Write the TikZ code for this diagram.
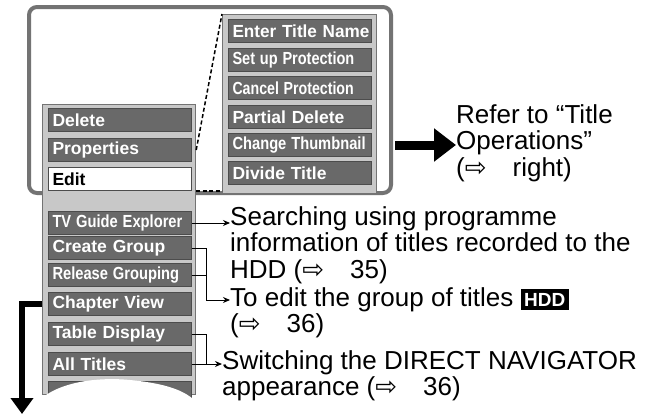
\documentclass[tikz,border=0pt]{standalone}
\usepackage{fontspec}
\setmainfont{Liberation Sans}
\newfontfamily\arrowfont{DejaVu Sans}
\usetikzlibrary{arrows.meta,positioning}
\definecolor{itemgray}{RGB}{105,105,105}
\definecolor{panelgray}{RGB}{200,200,200}
\tikzstyle{item}=[rectangle, fill=itemgray, draw=black!70, line width=1pt, text=white, font=\fontsize{17.5}{18}\selectfont\bfseries, text width=135pt, inner xsep=4pt, inner ysep=0pt, minimum height=23pt, align=left, anchor=north west]
\tikzstyle{panel}=[rectangle, fill=panelgray, draw=black!55, line width=1.2pt, anchor=north west, inner sep=0pt]
\tikzstyle{annot}=[align=left, anchor=north west, inner sep=0pt, font=\fontsize{26}{26.5}\selectfont]
\tikzstyle{link}=[line width=1pt, -{Stealth[length=7pt,width=6pt]}]
\newcommand{\ra}{{\arrowfont ⇨}}
\newcommand{\narrow}[2][0.78]{\scalebox{#1}[1]{#2}}
\newcommand{\hddmark}{\setlength{\fboxsep}{3.5pt}\colorbox{black}{\textcolor{white}{\fontsize{19}{19}\selectfont\bfseries HDD}}}
\begin{document}
\begin{tikzpicture}[x=1pt,y=-1pt]
	\useasboundingbox (0,0) rectangle (648,415);

	% frame and panels
	\draw[black!55, line width=4pt, rounded corners=8pt] (29,7) rectangle (391,193);
	\node[panel, minimum width=153pt, minimum height=290pt] (mainpanel) at (42,104){};
	\node[panel, minimum width=154pt, minimum height=179pt] (subpanel) at (222,14){};

	% main menu
	\node[item] (del) at (48,108) {Delete};
	\node[item] (prop) at (48,138) {Properties};
	\node[item, fill=white, text=black] (edit) at (48,167) {Edit};
	\node[item] (tvg) at (48,211) {\narrow[0.84]{TV Guide Explorer}};
	\node[item] (cgrp) at (48,236) {Create Group};
	\node[item] (rgrp) at (48,263) {\narrow[0.84]{Release Grouping}};
	\node[item] (chap) at (48,292) {Chapter View};
	\node[item] (tab) at (48,322) {Table Display};
	\node[item] (all) at (48,352) {All Titles};
	\node[item] (more) at (48,381) {};

	% edit sub menu
	\node[item] (ent) at (228,19) {\narrow[0.98]{Enter Title Name}};
	\node[item] (setp) at (228,48) {\narrow[0.83]{Set up Protection}};
	\node[item] (canp) at (228,76) {\narrow[0.81]{Cancel Protection}};
	\node[item] (part) at (228,105) {Partial Delete};
	\node[item] (thumb) at (228,133) {\narrow[0.84]{Change Thumbnail}};
	\node[item] (div) at (228,161) {Divide Title};

	\draw[dashed, line width=1.5pt, dash pattern=on 4pt off 2.5pt] (mainpanel.north east |- prop.east) -- (subpanel.north west);
	\draw[dashed, line width=1.5pt, dash pattern=on 4pt off 2.5pt] (edit.south east) ++(4,0) coordinate (ea) -- (ea -| subpanel.west);

	% cover
	\fill[white] (30,415) .. controls (40,385) and (90,376) .. (130,380) .. controls (170,384) and (195,392) .. (205,415) -- cycle;

	% texts
	\node[annot] (refer) at (456,104) {Refer to “Title\\Operations”\\(\ra\quad right)};
	\node[annot] (search) at (230,206) {Searching using programme\\information of titles recorded to the\\HDD (\ra\quad 35)};
	\node[annot] (group) at (230,287) {To edit the group of titles \hddmark\\(\ra\quad 36)};
	\node[annot] (switch) at (222,350) {Switching the DIRECT NAVIGATOR\\appearance (\ra\quad 36)};

	% connectors
	\draw[black, line width=9pt, -{Triangle[length=22pt,width=32pt]}] (subpanel.east |- thumb.east) ++(18,0) coordinate (bs) -- (bs -| refer.west);
	\draw[black, line width=6pt, -{Triangle[length=16pt,width=22pt]}] (mainpanel.west |- chap.west) -| (22,414) coordinate (down);
	\draw[link] (tvg.east) -- (tvg.east -| search.west);
	\coordinate (gj) at (206,300);
	\draw[line width=1pt] (cgrp.east) -| (gj);
	\draw[line width=1pt] (rgrp.east) -- (rgrp.east -| gj);
	\draw[link] (gj) -- (gj -| group.west);
	\coordinate (sj) at (206,364);
	\draw[line width=1pt] (tab.east) -| (sj);
	\draw[link] (all.east) -- (all.east -| switch.west);
\end{tikzpicture}
\end{document}
